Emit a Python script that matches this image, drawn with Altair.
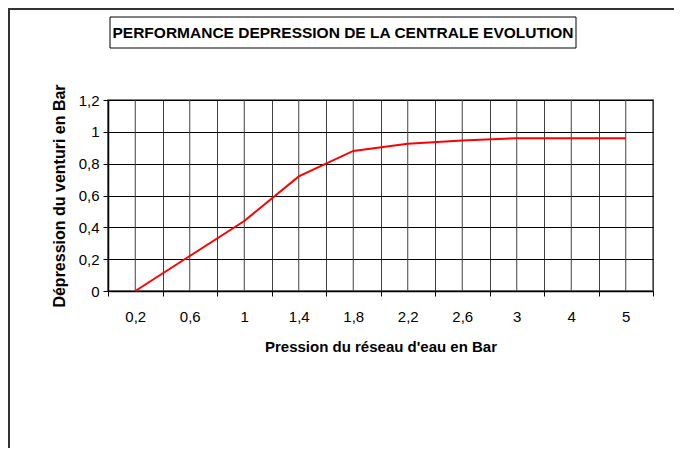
import altair as alt
import pandas as pd

# ---- data ----
pressions = ["0,2", "0,6", "1", "1,4", "1,8", "2,2", "2,6", "3", "4", "5"]
depressions = [0.0, 0.22, 0.44, 0.72, 0.88, 0.925, 0.945, 0.96, 0.96, 0.96]
y_ticks = [0, 0.2, 0.4, 0.6, 0.8, 1.0, 1.2]

title_text = "PERFORMANCE DEPRESSION DE LA CENTRALE EVOLUTION"
x_title = "Pression du réseau d'eau en Bar"
y_title = "Dépression du venturi en Bar"

df = pd.DataFrame({"pression": pressions, "depression": depressions})
one = pd.DataFrame({"k": [0]})

W, H = 545, 191
PAD = {"left": 100, "top": 92, "right": 21, "bottom": 157}
FONT = "Liberation Sans"

xenc = alt.X(
    "pression:N",
    sort=pressions,
    bandPosition=0.5,
    scale=alt.Scale(type="band", paddingInner=0, paddingOuter=0),
    axis=alt.Axis(
        title=x_title,
        tickBand="extent",
        labelAngle=0,
        grid=True,
        gridColor="#404040",
        gridWidth=1,
        domainColor="#000000",
        domainWidth=1.5,
        tickColor="#000000",
        tickSize=5,
        labelFont=FONT,
        labelFontSize=15,
        labelColor="#000000",
        labelPadding=13,
        titleFont=FONT,
        titleFontSize=15,
        titleFontWeight="bold",
        titleColor="#000000",
        titlePadding=15,
    ),
)

yenc = alt.Y(
    "depression:Q",
    scale=alt.Scale(domain=[0, 1.2], nice=False, zero=True),
    axis=alt.Axis(
        title=y_title,
        values=y_ticks,
        labelExpr="replace(format(datum.value, '.1~f'), '.', ',')",
        grid=True,
        gridColor="#000000",
        gridWidth=1,
        domainColor="#000000",
        domainWidth=1.5,
        tickColor="#000000",
        tickSize=5,
        labelFont=FONT,
        labelFontSize=15,
        labelColor="#000000",
        labelPadding=4,
        titleFont=FONT,
        titleFontSize=16,
        titleFontWeight="bold",
        titleColor="#000000",
        titlePadding=11,
    ),
)

center_rules = alt.Chart(df).mark_rule(color="#404040", strokeWidth=1).encode(x=xenc)

line = alt.Chart(df).mark_line(color="#FF0000", strokeWidth=2).encode(x=xenc, y=yenc)

outer_border = alt.Chart(one).mark_rect(
    fillOpacity=0, stroke="#333333", strokeWidth=2
).encode(
    x=alt.value(-PAD["left"] + 1),
    x2=alt.value(W + PAD["right"] + 20),
    y=alt.value(-PAD["top"] + 1),
    y2=alt.value(H + PAD["bottom"] + 20),
)

title_box = alt.Chart(one).mark_rect(
    fill="#FFFFFF", stroke="#000000", strokeWidth=1
).encode(
    x=alt.value(2), x2=alt.value(468), y=alt.value(-83), y2=alt.value(-52)
)

title = alt.Chart(one).mark_text(
    font=FONT, fontSize=15.5, fontWeight="bold", color="#000000",
    align="center", baseline="middle",
).encode(x=alt.value(235), y=alt.value(-67.5), text=alt.value(title_text))

chart = alt.layer(outer_border, center_rules, line, title_box, title).properties(
    width=W,
    height=H,
    autosize=alt.AutoSizeParams(type="none"),
    padding=PAD,
    background="#FFFFFF",
).configure_view(stroke="#808080", strokeWidth=2)

chart.save("out.html", embed_options={"renderer": "svg", "actions": False})
